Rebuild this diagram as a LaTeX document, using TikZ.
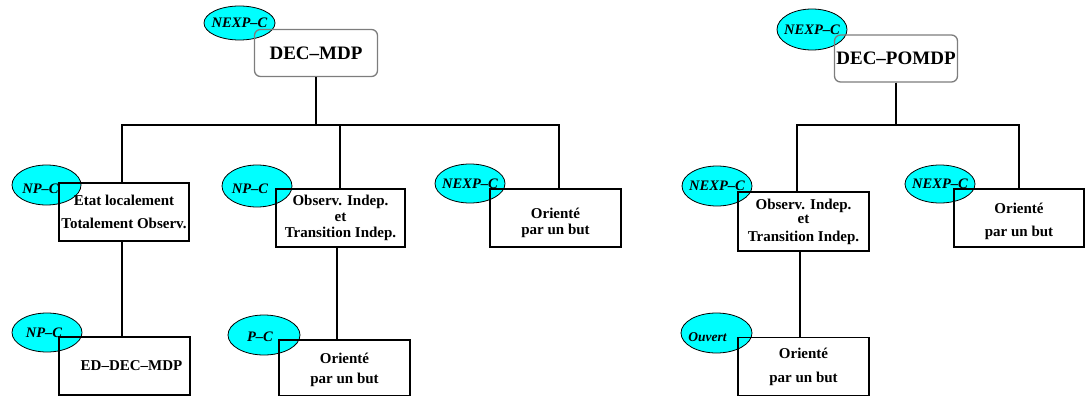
\documentclass[tikz,border=0pt]{standalone}
\usepackage{fontspec}
\setmainfont{Liberation Serif}
\usetikzlibrary{shapes.geometric}
\definecolor{tagfill}{RGB}{0,255,255}
\definecolor{rootline}{RGB}{125,125,125}
% complexity label: text of zero width, optionally moved left by #1 pt
\newcommand{\tagtxt}[2][0]{\makebox[0pt]{\kern-#1pt#2\kern#1pt}}
% invisible strut that pushes a centred text down by about #1 pt
\newcommand{\lowerby}[1]{\rule{0pt}{\dimexpr 10.5pt+2\dimexpr #1pt\relax\relax}}

\begin{document}
\begin{tikzpicture}[x=1pt,y=-1pt,
  box/.style={draw=black, line width=1.1pt, inner sep=0pt, align=center,
    font=\fontsize{15}{17}\selectfont\bfseries},
  root/.style={draw=rootline, line width=1.3pt, rounded corners=6pt, inner sep=0pt,
    minimum width=123pt, minimum height=47pt,
    font=\fontsize{19}{22}\selectfont\bfseries},
  tag/.style={ellipse, draw=black, line width=0.8pt, fill=tagfill, inner sep=0pt,
    font=\fontsize{14.5}{17}\selectfont\bfseries\itshape},
  wire/.style={draw=black, line width=1.2pt}]
\useasboundingbox (0,0) rectangle (1087,396);

% complexity classes (drawn first, boxes overlap them)
\node[tag, minimum width=71pt, minimum height=34pt] (e0) at (239.5,23) {\tagtxt{NEXP–C}};
\node[tag, minimum width=69pt, minimum height=40pt] (e1) at (46.5,185) {\tagtxt[6]{\lowerby{3.5}NP–C}};
\node[tag, minimum width=70pt, minimum height=42pt] (e2) at (257,186) {\tagtxt[7]{\lowerby{2}NP–C}};
\node[tag, minimum width=70pt, minimum height=39pt] (e3) at (470,183.5) {\tagtxt{NEXP–C}};
\node[tag, minimum width=70pt, minimum height=39pt] (e4) at (47,332.5) {\tagtxt[3]{NP–C}};
\node[tag, minimum width=72pt, minimum height=40pt] (e5) at (264,335) {\tagtxt[4]{\lowerby{1.5}P–C}};
\node[tag, minimum width=70pt, minimum height=41pt] (e6) at (812,29.5) {\tagtxt{NEXP–C}};
\node[tag, minimum width=70pt, minimum height=40pt] (e7) at (717,186) {\tagtxt{NEXP–C}};
\node[tag, minimum width=70pt, minimum height=38pt] (e8) at (940,184) {\tagtxt{NEXP–C}};
\node[tag, minimum width=71pt, minimum height=40pt, font=\fontsize{13.5}{16}\selectfont\bfseries\itshape]
  (e9) at (716.5,333) {\tagtxt[9]{\lowerby{3.5}Ouvert}};

% left tree
\node[root] (mdp) at (316,53) {DEC–MDP};
\node[box, minimum width=130pt, minimum height=58pt] (b1) at (124,212)
  {Etat localement\\[6pt]Totalement Observ.};
\node[box, minimum width=129pt, minimum height=58pt] (b2) at (340.5,218)
  {Observ. Indep.\\[-1.5pt]et\hspace*{20pt}\\[-1pt]Transition Indep.};
\node[box, minimum width=131pt, minimum height=58pt] (b3) at (555.5,218)
  {\lowerby{4.5}Orienté\\[-1pt]par un but};
\node[box, minimum width=131pt, minimum height=58pt] (b4) at (124.5,366)
  {\hspace*{14pt}ED–DEC–MDP};
\node[box, minimum width=131pt, minimum height=56pt] (b5) at (344.5,368)
  {\lowerby{1.5}Orienté\\[3pt]par un but};

% right tree
\node[root] (pomdp) at (896,58.5) {DEC–POMDP};
\node[box, minimum width=131pt, minimum height=59pt] (r1) at (803.5,221.5)
  {Observ. Indep.\\[-3pt]et\hspace*{74pt}\\[1pt]Transition Indep.};
\node[box, minimum width=130pt, minimum height=58pt] (r2) at (1019,218)
  {\lowerby{3}Orienté\\[6pt]par un but};
\node[box, minimum width=131pt, minimum height=58pt] (r3) at (803.5,366.5)
  {Orienté\\[7pt]par un but};

% bus heights
\coordinate (busL) at (0,125);
\coordinate (busR) at (0,125);

% connectors
\draw[wire] (mdp.south) -- (mdp.south |- busL) -| ([xshift=-2pt]b1.north);
\draw[wire] (mdp.south) -- (mdp.south |- busL) -| ([xshift=-0.5pt]b2.north);
\draw[wire] (mdp.south) -- (mdp.south |- busL) -| ([xshift=3.5pt]b3.north);
\draw[wire] ([xshift=-2pt]b1.south) -- ([xshift=-2.5pt]b4.north);
\draw[wire] ([xshift=-3.5pt]b2.south) -- ([xshift=-7.5pt]b5.north);

\draw[wire] (pomdp.south) -- (pomdp.south |- busR) -| ([xshift=-6.5pt]r1.north);
\draw[wire] (pomdp.south) -- (pomdp.south |- busR) -| (r2.north);
\draw[wire] ([xshift=-3.5pt]r1.south) -- ([xshift=-3.5pt]r3.north);
\end{tikzpicture}
\end{document}
